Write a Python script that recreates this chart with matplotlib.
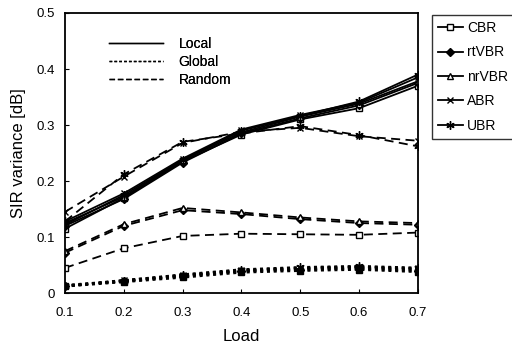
import matplotlib.pyplot as plt
from matplotlib.lines import Line2D

plt.rcParams['font.family'] = ['Liberation Sans', 'DejaVu Sans']

load = [0.1, 0.2, 0.3, 0.4, 0.5, 0.6, 0.7]
classes = ['CBR', 'rtVBR', 'nrVBR', 'ABR', 'UBR']
markers = {'CBR': 's', 'rtVBR': 'D', 'nrVBR': '^', 'ABR': 'x', 'UBR': (6, 2, 0)}
msizes = {'CBR': 5, 'rtVBR': 4, 'nrVBR': 5, 'ABR': 5, 'UBR': 6}

# Local (solid)
local = {
    'CBR':   [0.115, 0.170, 0.235, 0.283, 0.310, 0.330, 0.370],
    'rtVBR': [0.120, 0.168, 0.233, 0.285, 0.312, 0.335, 0.375],
    'nrVBR': [0.125, 0.172, 0.237, 0.287, 0.315, 0.338, 0.378],
    'ABR':   [0.128, 0.178, 0.240, 0.292, 0.318, 0.340, 0.385],
    'UBR':   [0.122, 0.175, 0.238, 0.290, 0.316, 0.342, 0.390],
}
# Global (dotted)
glob = {
    'CBR':   [0.012, 0.020, 0.028, 0.037, 0.040, 0.042, 0.038],
    'rtVBR': [0.013, 0.021, 0.030, 0.039, 0.042, 0.044, 0.040],
    'nrVBR': [0.014, 0.022, 0.031, 0.040, 0.044, 0.046, 0.042],
    'ABR':   [0.012, 0.023, 0.032, 0.041, 0.045, 0.047, 0.044],
    'UBR':   [0.013, 0.022, 0.033, 0.042, 0.046, 0.048, 0.045],
}
# Random (dashed)
rand = {
    'CBR':   [0.045, 0.080, 0.102, 0.106, 0.105, 0.104, 0.108],
    'rtVBR': [0.072, 0.120, 0.148, 0.141, 0.132, 0.125, 0.122],
    'nrVBR': [0.075, 0.123, 0.152, 0.144, 0.135, 0.128, 0.125],
    'ABR':   [0.145, 0.208, 0.268, 0.288, 0.295, 0.280, 0.272],
    'UBR':   [0.128, 0.212, 0.270, 0.285, 0.298, 0.282, 0.262],
}

fig = plt.figure(figsize=(5.12, 3.51), dpi=100)
ax = fig.add_axes([0.127, 0.165, 0.689, 0.798])

for c in classes:
    m = markers[c]
    face = 'white' if c in ('CBR', 'nrVBR') else 'black'
    ax.plot(load, local[c], color='black', lw=1.3, ls='-', marker=m, ms=msizes[c],
            mfc=face, mec='black')
    ax.plot(load, glob[c], color='black', lw=1.8, ls=(0, (1.2, 1.5)), marker=m,
            ms=msizes[c], mfc='black', mec='black')
    ax.plot(load, rand[c], color='black', lw=1.3, ls=(0, (5, 3)), marker=m,
            ms=msizes[c], mfc=face, mec='black')

ax.set_xlim(0.1, 0.7)
ax.set_ylim(0, 0.5)
ax.set_xticks(load)
ax.set_xticklabels(['0.1', '0.2', '0.3', '0.4', '0.5', '0.6', '0.7'])
ax.set_yticks([0, 0.1, 0.2, 0.3, 0.4, 0.5])
ax.set_yticklabels(['0', '0.1', '0.2', '0.3', '0.4', '0.5'])
ax.tick_params(direction='in', length=3, labelsize=9.5, pad=7)
ax.tick_params(axis='x', pad=10)
for s in ax.spines.values():
    s.set_linewidth(1.3)
ax.set_xlabel('Load', fontsize=12, labelpad=7)
ax.set_ylabel('SIR variance [dB]', fontsize=12, labelpad=8)

# line style legend
style_handles = [
    Line2D([], [], color='black', lw=1, ls='-'),
    Line2D([], [], color='black', lw=1, ls=(0, (2, 1.5))),
    Line2D([], [], color='black', lw=1, ls=(0, (4, 2))),
]
leg1 = ax.legend(style_handles, ['Local', 'Global', 'Random'], loc='upper left',
                 bbox_to_anchor=(0.09, 0.96), frameon=False, fontsize=10,
                 handlelength=3.9, handletextpad=1.1, labelspacing=0.3)
ax.add_artist(leg1)

# class legend
class_handles = [
    Line2D([], [], color='black', lw=1.3, marker=markers[c], ms=msizes[c],
           mfc='white' if c in ('CBR', 'nrVBR') else 'black', mec='black')
    for c in classes
]
fig.legend(class_handles, classes, loc='upper left', bbox_to_anchor=(0.843, 0.958),
           frameon=True, fancybox=False, edgecolor='black', fontsize=10,
           handlelength=1.8, handletextpad=0.3, labelspacing=0.75,
           borderpad=0.45, borderaxespad=0)

fig.savefig('out.png', dpi=100)
